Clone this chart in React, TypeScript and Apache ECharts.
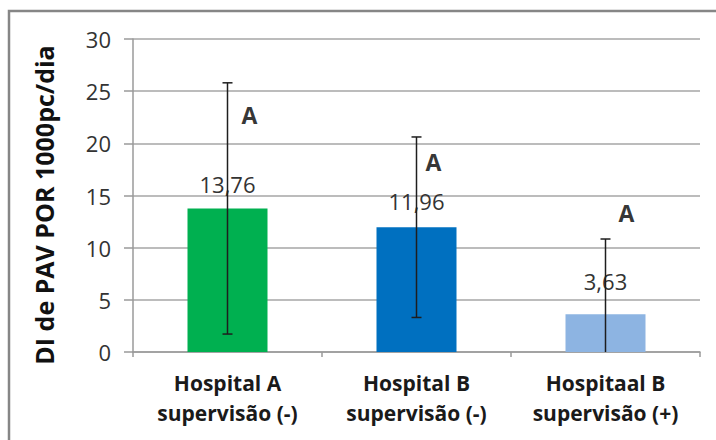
import React, { useEffect, useRef } from "react";
import * as echarts from "echarts";

const categories = ["Hospital A\nsupervisão (-)", "Hospital B\nsupervisão (-)", "Hospitaal B\nsupervisão (+)"];
const means = [13.76, 11.96, 3.63];
const errors = [12.04, 8.65, 7.2];
const meanLabels = ["13,76", "11,96", "3,63"];
const letters = ["A", "A", "A"];
const letterValues = [22.7, 18.2, 13.3];
const yAxisTitle = "DI de PAV POR 1000pc/dia";
const barColors = ["#00B050", "#0070C0", "#8DB4E2"];
const labelDistances = [13, 15, 22];
const letterOffsets = [22, 17, 21];
const yTicks = { min: 0, max: 30, interval: 5 };

export default function App() {
  const ref = useRef<HTMLDivElement>(null);
  useEffect(() => {
    if (!ref.current) return;
    const chart = echarts.init(ref.current, null, { renderer: "svg" });
    const font = "'Open Sans', 'Noto Sans', sans-serif";
    const errData = means.map((m, i) => [i, Math.max(0, m - errors[i]), m + errors[i], m - errors[i] >= 0 ? 1 : 0]);
    chart.setOption({
      animation: false,
      backgroundColor: "#ffffff",
      graphic: [
        {
          type: "rect",
          shape: { x: 9, y: 11, width: 740, height: 460 },
          style: { fill: "none", stroke: "#868686", lineWidth: 2.5 },
          silent: true,
          z: 100,
        },
        {
          type: "text",
          x: 44,
          y: 205,
          rotation: Math.PI / 2,
          style: {
            text: yAxisTitle,
            fontFamily: font,
            fontSize: 25,
            fontWeight: "bold",
            fill: "#111111",
            align: "center",
            verticalAlign: "middle",
          },
          silent: true,
        },
      ],
      grid: { left: 133, right: 16, top: 39, bottom: 88 },
      xAxis: {
        type: "category",
        data: categories,
        axisLine: { show: true, lineStyle: { color: "#9a9a9a", width: 1.5 } },
        axisTick: { show: true, alignWithLabel: false, length: 5, lineStyle: { color: "#9a9a9a", width: 1.5 } },
        axisLabel: {
          fontFamily: font,
          fontSize: 21,
          fontWeight: "bold",
          color: "#1a1a1a",
          lineHeight: 30,
          margin: 16,
          interval: 0,
        },
      },
      yAxis: {
        type: "value",
        min: yTicks.min,
        max: yTicks.max,
        interval: yTicks.interval,
        axisLine: { show: true, lineStyle: { color: "#9a9a9a", width: 1.5 } },
        axisTick: { show: true, inside: false, length: 9, lineStyle: { color: "#9a9a9a", width: 1.5 } },
        axisLabel: { fontFamily: font, fontSize: 22, color: "#333333", margin: 22 },
        splitLine: { show: true, lineStyle: { color: "#a6a6a6", width: 1.5 } },
      },
      series: [
        {
          type: "bar",
          barWidth: 80,
          data: means.map((v, i) => ({
            value: v,
            itemStyle: { color: barColors[i] },
            label: {
              show: true,
              position: "top",
              distance: labelDistances[i],
              formatter: meanLabels[i],
              fontFamily: font,
              fontSize: 22,
              color: "#333333",
            },
          })),
          z: 2,
        },
        {
          type: "custom",
          z: 5,
          data: errData,
          renderItem: (params: any, api: any) => {
            const x = api.value(0);
            const lo = api.coord([x, api.value(1)]);
            const hi = api.coord([x, api.value(2)]);
            const hasLowCap = api.value(3) === 1;
            const cap = 5;
            const style = { stroke: "#1e1e1e", lineWidth: 1.5 };
            const children: any[] = [
              { type: "line", shape: { x1: hi[0], y1: hi[1], x2: lo[0], y2: lo[1] }, style },
              { type: "line", shape: { x1: hi[0] - cap, y1: hi[1], x2: hi[0] + cap, y2: hi[1] }, style },
            ];
            if (hasLowCap) {
              children.push({ type: "line", shape: { x1: lo[0] - cap, y1: lo[1], x2: lo[0] + cap, y2: lo[1] }, style });
            }
            return { type: "group", children };
          },
        },
        {
          type: "scatter",
          symbolSize: 0,
          z: 6,
          data: letterValues.map((v, i) => ({
            value: [i, v],
            label: {
              show: true,
              position: "inside",
              offset: [letterOffsets[i], 0],
              formatter: letters[i],
              fontFamily: font,
              fontSize: 23,
              fontWeight: "bold",
              color: "#000000",
            },
          })),
        },
      ],
    });
    return () => chart.dispose();
  }, []);
  return <div ref={ref} style={{ position: "fixed", left: 0, top: 0, width: 716, height: 440 }} />;
}
